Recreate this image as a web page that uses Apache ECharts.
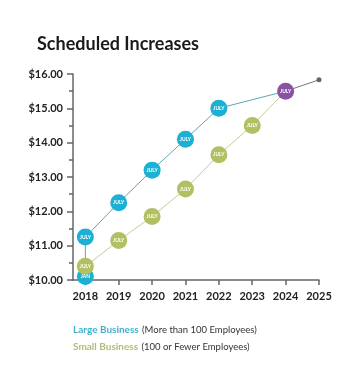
<!DOCTYPE html>
<html>
<head>
<meta charset="utf-8">
<script src="https://cdn.jsdelivr.net/npm/echarts@6/dist/echarts.min.js"></script>
<style>
  html, body { margin: 0; padding: 0; background: #fff; }
  #chart { width: 345px; height: 382px; }
</style>
</head>
<body>
<div id="chart"></div>
<script>
// Minimum wage schedule, by year
const years = [2018, 2019, 2020, 2021, 2022, 2023, 2024, 2025];

// Large business (more than 100 employees)
const largeYears  = [2018, 2018, 2019, 2020, 2021, 2022, 2024];
const largeValues = [10.10, 11.25, 12.25, 13.20, 14.10, 15.00, 15.50];
const largeTags   = ['JAN', 'JULY', 'JULY', 'JULY', 'JULY', 'JULY', 'JULY'];

// Small business (100 or fewer employees)
const smallYears  = [2018, 2019, 2020, 2021, 2022, 2023, 2024];
const smallValues = [10.40, 11.15, 11.85, 12.65, 13.65, 14.50, 15.50];

// Combined rate from 2024 onward
const jointYears  = [2024, 2025];
const jointValues = [15.50, 15.83];

const BLUE = '#1cb0d3';
const GREEN = '#b3bf63';
const PURPLE = '#8a52a3';
const FONT = 'Lato, "Open Sans", sans-serif';

const tagLabel = {
  show: true, position: 'inside', color: '#fff',
  fontSize: 5, fontWeight: 'bold', fontFamily: FONT
};

function points(xs, ys, tags, hideLast) {
  return xs.map((x, i) => {
    const last = hideLast && i === xs.length - 1;
    return {
      value: [x, ys[i]],
      symbolSize: last ? 0 : 17,
      label: Object.assign({}, tagLabel, { show: !last, formatter: tags ? tags[i] : 'JULY' })
    };
  });
}

const chart = echarts.init(document.getElementById('chart'), null, { renderer: 'canvas' });

chart.setOption({
  animation: false,
  backgroundColor: '#fff',
  title: {
    text: 'Scheduled Increases',
    left: 32, top: 30,
    textStyle: { fontFamily: FONT, fontSize: 18, fontWeight: 'bold', color: '#1a1a1a' }
  },
  grid: { left: 73, right: 26, top: 74, bottom: 102 },
  xAxis: {
    type: 'value',
    min: 2017.63, max: 2025,
    axisLine: { lineStyle: { color: '#666', width: 1.5 } },
    axisTick: { show: true, length: 5, customValues: years, lineStyle: { color: '#666', width: 1.5 } },
    axisLabel: {
      customValues: years, margin: 11,
      fontFamily: FONT, fontSize: 11, fontWeight: 'bold', color: '#222',
      formatter: v => String(Math.round(v))
    },
    splitLine: { show: false }
  },
  yAxis: {
    type: 'value',
    min: 10, max: 16, interval: 1,
    axisLine: { show: true, lineStyle: { color: '#666', width: 1.5 } },
    axisTick: { show: true, length: 6, lineStyle: { color: '#666', width: 1.5 } },
    minorTick: { show: true, splitNumber: 2, length: 4, lineStyle: { color: '#666', width: 1.5 } },
    axisLabel: {
      margin: 10,
      fontFamily: FONT, fontSize: 11, fontWeight: 'bold', color: '#222',
      formatter: v => '$' + v.toFixed(2)
    },
    splitLine: { show: false }
  },
  series: [
    {
      type: 'line',
      data: points(jointYears, jointValues, null, false).map((d, i) => i === 0
        ? Object.assign(d, { itemStyle: { color: PURPLE } })
        : Object.assign(d, { symbolSize: 5, label: { show: false }, itemStyle: { color: '#666' } })),
      symbol: 'circle',
      lineStyle: { color: '#777', width: 1 },
      z: 5
    },
    {
      type: 'line',
      data: points(largeYears, largeValues, largeTags, true),
      symbol: 'circle',
      itemStyle: { color: BLUE },
      lineStyle: { color: '#5aa7b8', width: 1 },
      z: 3
    },
    {
      type: 'line',
      data: points(smallYears, smallValues, null, true),
      symbol: 'circle',
      itemStyle: { color: GREEN },
      lineStyle: { color: '#c5cc95', width: 1 },
      z: 3
    }
  ],
  graphic: [
    {
      type: 'text', left: 73, top: 324,
      style: {
        text: '{a|Large Business} {b|(More than 100 Employees)}',
        rich: {
          a: { fontFamily: FONT, fontSize: 10, fontWeight: 'bold', fill: '#3fb0c9' },
          b: { fontFamily: FONT, fontSize: 9.5, fill: '#333' }
        }
      }
    },
    {
      type: 'text', left: 73, top: 341,
      style: {
        text: '{a|Small Business} {b|(100 or Fewer Employees)}',
        rich: {
          a: { fontFamily: FONT, fontSize: 10, fontWeight: 'bold', fill: '#b3bd72' },
          b: { fontFamily: FONT, fontSize: 9.5, fill: '#333' }
        }
      }
    }
  ]
});
</script>
</body>
</html>
